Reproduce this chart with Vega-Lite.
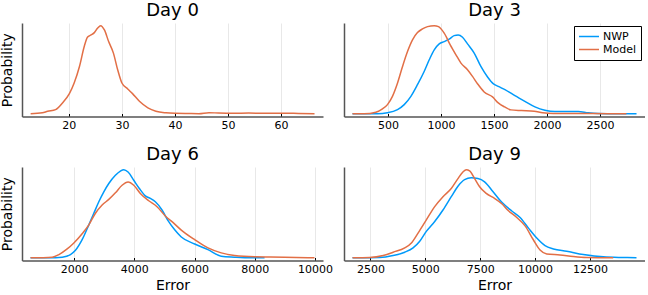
{
"$schema": "https://vega.github.io/schema/vega-lite/v6.json",
"padding": {"left": 0, "top": 1, "right": 0, "bottom": 0},
"background": "white",
"data": {"values": [
{"day":"Day 0","series":"Model","error":12.8,"density":0},{"day":"Day 0","series":"Model","error":15.0,"density":1},{"day":"Day 0","series":"Model","error":16.0,"density":2.6},{"day":"Day 0","series":"Model","error":17.5,"density":4.3},{"day":"Day 0","series":"Model","error":18.8,"density":11},{"day":"Day 0","series":"Model","error":20.1,"density":20.3},{"day":"Day 0","series":"Model","error":21.0,"density":31},{"day":"Day 0","series":"Model","error":22.0,"density":47.6},{"day":"Day 0","series":"Model","error":22.9,"density":67.6},{"day":"Day 0","series":"Model","error":23.5,"density":77},{"day":"Day 0","series":"Model","error":24.2,"density":79.3},{"day":"Day 0","series":"Model","error":24.8,"density":81.6},{"day":"Day 0","series":"Model","error":25.4,"density":86},{"day":"Day 0","series":"Model","error":26.0,"density":88.6},{"day":"Day 0","series":"Model","error":26.7,"density":84.3},{"day":"Day 0","series":"Model","error":27.5,"density":72.6},{"day":"Day 0","series":"Model","error":28.4,"density":61},{"day":"Day 0","series":"Model","error":29.2,"density":44.3},{"day":"Day 0","series":"Model","error":30.0,"density":31},{"day":"Day 0","series":"Model","error":31.1,"density":25},{"day":"Day 0","series":"Model","error":32.0,"density":20.3},{"day":"Day 0","series":"Model","error":33.3,"density":12.6},{"day":"Day 0","series":"Model","error":34.9,"density":6},{"day":"Day 0","series":"Model","error":36.4,"density":2.6},{"day":"Day 0","series":"Model","error":38.3,"density":1},{"day":"Day 0","series":"Model","error":40,"density":0.5},{"day":"Day 0","series":"Model","error":42.6,"density":0.3},{"day":"Day 0","series":"Model","error":44.5,"density":0.2},{"day":"Day 0","series":"Model","error":46.4,"density":1.2},{"day":"Day 0","series":"Model","error":48.2,"density":0.8},{"day":"Day 0","series":"Model","error":51,"density":0.5},{"day":"Day 0","series":"Model","error":53.9,"density":0.8},{"day":"Day 0","series":"Model","error":56.7,"density":0.5},{"day":"Day 0","series":"Model","error":60.5,"density":0.6},{"day":"Day 0","series":"Model","error":63.3,"density":0.4},{"day":"Day 0","series":"Model","error":66.3,"density":0.2},

{"day":"Day 3","series":"NWP","error":166,"density":0},{"day":"Day 3","series":"NWP","error":402,"density":0},{"day":"Day 3","series":"NWP","error":496,"density":1},{"day":"Day 3","series":"NWP","error":591,"density":4.3},{"day":"Day 3","series":"NWP","error":654,"density":9.3},{"day":"Day 3","series":"NWP","error":717,"density":17.6},{"day":"Day 3","series":"NWP","error":779,"density":29.3},{"day":"Day 3","series":"NWP","error":842,"density":42.6},{"day":"Day 3","series":"NWP","error":890,"density":54.3},{"day":"Day 3","series":"NWP","error":937,"density":64.3},{"day":"Day 3","series":"NWP","error":984,"density":70.3},{"day":"Day 3","series":"NWP","error":1031,"density":72.6},{"day":"Day 3","series":"NWP","error":1078,"density":75},{"day":"Day 3","series":"NWP","error":1125,"density":78.6},{"day":"Day 3","series":"NWP","error":1163,"density":79.3},{"day":"Day 3","series":"NWP","error":1204,"density":77},{"day":"Day 3","series":"NWP","error":1251,"density":70.3},{"day":"Day 3","series":"NWP","error":1314,"density":61},{"day":"Day 3","series":"NWP","error":1377,"density":47.6},{"day":"Day 3","series":"NWP","error":1440,"density":37},{"day":"Day 3","series":"NWP","error":1493,"density":30.3},{"day":"Day 3","series":"NWP","error":1541,"density":27.6},{"day":"Day 3","series":"NWP","error":1604,"density":24.3},{"day":"Day 3","series":"NWP","error":1698,"density":18.3},{"day":"Day 3","series":"NWP","error":1792,"density":12.6},{"day":"Day 3","series":"NWP","error":1887,"density":7},{"day":"Day 3","series":"NWP","error":1981,"density":3.6},{"day":"Day 3","series":"NWP","error":2075,"density":2.3},{"day":"Day 3","series":"NWP","error":2201,"density":2.3},{"day":"Day 3","series":"NWP","error":2295,"density":2.3},{"day":"Day 3","series":"NWP","error":2390,"density":1},{"day":"Day 3","series":"NWP","error":2484,"density":0.3},{"day":"Day 3","series":"NWP","error":2641,"density":0},{"day":"Day 3","series":"NWP","error":2845,"density":0},

{"day":"Day 3","series":"Model","error":166,"density":0},{"day":"Day 3","series":"Model","error":276,"density":0},{"day":"Day 3","series":"Model","error":387,"density":1.7},{"day":"Day 3","series":"Model","error":449,"density":5},{"day":"Day 3","series":"Model","error":496,"density":9.3},{"day":"Day 3","series":"Model","error":543,"density":17.6},{"day":"Day 3","series":"Model","error":591,"density":31},{"day":"Day 3","series":"Model","error":638,"density":47.6},{"day":"Day 3","series":"Model","error":685,"density":62.6},{"day":"Day 3","series":"Model","error":732,"density":74.3},{"day":"Day 3","series":"Model","error":779,"density":81.6},{"day":"Day 3","series":"Model","error":826,"density":85.3},{"day":"Day 3","series":"Model","error":874,"density":87.6},{"day":"Day 3","series":"Model","error":937,"density":88.6},{"day":"Day 3","series":"Model","error":977,"density":87.6},{"day":"Day 3","series":"Model","error":1031,"density":81},{"day":"Day 3","series":"Model","error":1088,"density":69.3},{"day":"Day 3","series":"Model","error":1142,"density":59.3},{"day":"Day 3","series":"Model","error":1189,"density":51},{"day":"Day 3","series":"Model","error":1251,"density":44.3},{"day":"Day 3","series":"Model","error":1298,"density":37.6},{"day":"Day 3","series":"Model","error":1345,"density":30.3},{"day":"Day 3","series":"Model","error":1408,"density":22},{"day":"Day 3","series":"Model","error":1487,"density":17},{"day":"Day 3","series":"Model","error":1541,"density":11},{"day":"Day 3","series":"Model","error":1600,"density":7},{"day":"Day 3","series":"Model","error":1660,"density":4},{"day":"Day 3","series":"Model","error":1760,"density":3.3},{"day":"Day 3","series":"Model","error":1880,"density":2.6},{"day":"Day 3","series":"Model","error":1960,"density":1},{"day":"Day 3","series":"Model","error":2060,"density":0.3},{"day":"Day 3","series":"Model","error":2300,"density":0.3},{"day":"Day 3","series":"Model","error":2580,"density":0.2},{"day":"Day 3","series":"Model","error":2750,"density":0},

{"day":"Day 6","series":"NWP","error":550,"density":0},{"day":"Day 6","series":"NWP","error":1161,"density":0},{"day":"Day 6","series":"NWP","error":1602,"density":0.7},{"day":"Day 6","series":"NWP","error":1877,"density":3.3},{"day":"Day 6","series":"NWP","error":2043,"density":7.6},{"day":"Day 6","series":"NWP","error":2265,"density":18.3},{"day":"Day 6","series":"NWP","error":2488,"density":33.3},{"day":"Day 6","series":"NWP","error":2653,"density":45},{"day":"Day 6","series":"NWP","error":2819,"density":56.6},{"day":"Day 6","series":"NWP","error":2985,"density":66.6},{"day":"Day 6","series":"NWP","error":3151,"density":75},{"day":"Day 6","series":"NWP","error":3370,"density":83.3},{"day":"Day 6","series":"NWP","error":3536,"density":87.6},{"day":"Day 6","series":"NWP","error":3648,"density":89},{"day":"Day 6","series":"NWP","error":3791,"density":86.6},{"day":"Day 6","series":"NWP","error":3980,"density":78.3},{"day":"Day 6","series":"NWP","error":4166,"density":70},{"day":"Day 6","series":"NWP","error":4365,"density":62.6},{"day":"Day 6","series":"NWP","error":4531,"density":60},{"day":"Day 6","series":"NWP","error":4697,"density":56.6},{"day":"Day 6","series":"NWP","error":4919,"density":48.3},{"day":"Day 6","series":"NWP","error":5130,"density":37},{"day":"Day 6","series":"NWP","error":5340,"density":28.3},{"day":"Day 6","series":"NWP","error":5559,"density":21},{"day":"Day 6","series":"NWP","error":6004,"density":14},{"day":"Day 6","series":"NWP","error":6445,"density":8.3},{"day":"Day 6","series":"NWP","error":6886,"density":1.7},{"day":"Day 6","series":"NWP","error":7330,"density":0.7},{"day":"Day 6","series":"NWP","error":7881,"density":0},{"day":"Day 6","series":"NWP","error":8325,"density":0},

{"day":"Day 6","series":"Model","error":550,"density":0},{"day":"Day 6","series":"Model","error":1270,"density":0.7},{"day":"Day 6","series":"Model","error":1493,"density":3.3},{"day":"Day 6","series":"Model","error":1768,"density":9},{"day":"Day 6","series":"Model","error":1990,"density":15},{"day":"Day 6","series":"Model","error":2265,"density":24.3},{"day":"Day 6","series":"Model","error":2488,"density":33.3},{"day":"Day 6","series":"Model","error":2707,"density":45},{"day":"Day 6","series":"Model","error":2929,"density":53.3},{"day":"Day 6","series":"Model","error":3151,"density":59},{"day":"Day 6","series":"Model","error":3370,"density":65.6},{"day":"Day 6","series":"Model","error":3592,"density":73.3},{"day":"Day 6","series":"Model","error":3791,"density":76.6},{"day":"Day 6","series":"Model","error":3980,"density":73.3},{"day":"Day 6","series":"Model","error":4199,"density":65},{"day":"Day 6","series":"Model","error":4478,"density":57.6},{"day":"Day 6","series":"Model","error":4753,"density":51.6},{"day":"Day 6","series":"Model","error":5028,"density":42.3},{"day":"Day 6","series":"Model","error":5307,"density":35},{"day":"Day 6","series":"Model","error":5559,"density":28},{"day":"Day 6","series":"Model","error":6004,"density":18.3},{"day":"Day 6","series":"Model","error":6445,"density":10},{"day":"Day 6","series":"Model","error":6886,"density":5},{"day":"Day 6","series":"Model","error":7330,"density":2.3},{"day":"Day 6","series":"Model","error":7993,"density":1},{"day":"Day 6","series":"Model","error":8988,"density":0.7},{"day":"Day 6","series":"Model","error":9984,"density":0},

{"day":"Day 9","series":"NWP","error":1682,"density":0},{"day":"Day 9","series":"NWP","error":2927,"density":0.3},{"day":"Day 9","series":"NWP","error":3532,"density":2.3},{"day":"Day 9","series":"NWP","error":4063,"density":5.7},{"day":"Day 9","series":"NWP","error":4441,"density":10},{"day":"Day 9","series":"NWP","error":4745,"density":16.7},{"day":"Day 9","series":"NWP","error":5045,"density":26.7},{"day":"Day 9","series":"NWP","error":5427,"density":36.7},{"day":"Day 9","series":"NWP","error":5804,"density":48.3},{"day":"Day 9","series":"NWP","error":6181,"density":61.7},{"day":"Day 9","series":"NWP","error":6486,"density":72.3},{"day":"Day 9","series":"NWP","error":6790,"density":79},{"day":"Day 9","series":"NWP","error":7090,"density":80.7},{"day":"Day 9","series":"NWP","error":7395,"density":80},{"day":"Day 9","series":"NWP","error":7700,"density":76.7},{"day":"Day 9","series":"NWP","error":8077,"density":67},{"day":"Day 9","series":"NWP","error":8486,"density":56},{"day":"Day 9","series":"NWP","error":8940,"density":47.3},{"day":"Day 9","series":"NWP","error":9318,"density":40.7},{"day":"Day 9","series":"NWP","error":9700,"density":30},{"day":"Day 9","series":"NWP","error":10077,"density":20},{"day":"Day 9","series":"NWP","error":10454,"density":12.3},{"day":"Day 9","series":"NWP","error":10836,"density":9},{"day":"Day 9","series":"NWP","error":11440,"density":6.7},{"day":"Day 9","series":"NWP","error":12200,"density":3.3},{"day":"Day 9","series":"NWP","error":13108,"density":1},{"day":"Day 9","series":"NWP","error":14167,"density":0.3},{"day":"Day 9","series":"NWP","error":14621,"density":0},

{"day":"Day 9","series":"Model","error":1682,"density":0},{"day":"Day 9","series":"Model","error":2473,"density":0.3},{"day":"Day 9","series":"Model","error":3077,"density":2.3},{"day":"Day 9","series":"Model","error":3532,"density":5.7},{"day":"Day 9","series":"Model","error":4063,"density":10},{"day":"Day 9","series":"Model","error":4364,"density":15},{"day":"Day 9","series":"Model","error":4668,"density":25},{"day":"Day 9","series":"Model","error":5045,"density":38.3},{"day":"Day 9","series":"Model","error":5427,"density":51.7},{"day":"Day 9","series":"Model","error":5804,"density":61.7},{"day":"Day 9","series":"Model","error":6181,"density":70},{"day":"Day 9","series":"Model","error":6486,"density":80},{"day":"Day 9","series":"Model","error":6713,"density":86.7},{"day":"Day 9","series":"Model","error":6863,"density":89},{"day":"Day 9","series":"Model","error":7018,"density":87.7},{"day":"Day 9","series":"Model","error":7245,"density":80},{"day":"Day 9","series":"Model","error":7472,"density":71.7},{"day":"Day 9","series":"Model","error":7772,"density":65},{"day":"Day 9","series":"Model","error":8154,"density":60},{"day":"Day 9","series":"Model","error":8500,"density":54.3},{"day":"Day 9","series":"Model","error":8713,"density":49},{"day":"Day 9","series":"Model","error":9168,"density":40.7},{"day":"Day 9","series":"Model","error":9545,"density":32.3},{"day":"Day 9","series":"Model","error":9927,"density":18},{"day":"Day 9","series":"Model","error":10227,"density":8},{"day":"Day 9","series":"Model","error":10531,"density":4},{"day":"Day 9","series":"Model","error":11136,"density":3},{"day":"Day 9","series":"Model","error":11745,"density":1.3},{"day":"Day 9","series":"Model","error":12349,"density":0.3},{"day":"Day 9","series":"Model","error":13563,"density":0}
]},
"columns": 2,
"spacing": {"row": 50, "column": 21},
"bounds": "flush",
"resolve": {"legend": {"color": "independent"}},
"concat": [
{
 "title": "Day 0",
 "width": 301, "height": 93.5,
 "transform": [{"filter": "datum.day === 'Day 0'"}],
 "mark": {"type": "line", "strokeWidth": 1.5, "interpolate": "monotone"},
 "encoding": {
  "x": {"field": "error", "type": "quantitative", "scale": {"domain": [11.17, 67.9], "nice": false, "zero": false}, "axis": {"values": [20, 30, 40, 50, 60], "title": null}},
  "y": {"field": "density", "type": "quantitative", "scale": {"domain": [-2.66, 91.26], "nice": false}, "axis": {"title": "Probability"}},
  "color": {"field": "series", "type": "nominal", "scale": {"domain": ["NWP", "Model"], "range": ["#009AFA", "#E26F46"]}, "legend": null}
 }
},
{
 "title": "Day 3",
 "width": 301, "height": 93.5,
 "transform": [{"filter": "datum.day === 'Day 3'"}],
 "mark": {"type": "line", "strokeWidth": 1.5, "interpolate": "monotone"},
 "encoding": {
  "x": {"field": "error", "type": "quantitative", "scale": {"domain": [86, 2925], "nice": false, "zero": false}, "axis": {"values": [500, 1000, 1500, 2000, 2500], "title": null, "format": "d"}},
  "y": {"field": "density", "type": "quantitative", "scale": {"domain": [-2.66, 91.26], "nice": false}, "axis": {"title": null}},
  "color": {"field": "series", "type": "nominal", "scale": {"domain": ["NWP", "Model"], "range": ["#009AFA", "#E26F46"]},
   "legend": {"title": null, "orient": "none", "legendX": 230, "legendY": 3, "strokeColor": "#000", "fillColor": "#fff", "symbolType": "stroke", "symbolSize": 400, "symbolStrokeWidth": 1.5, "labelFontSize": 11, "labelFont": "DejaVu Sans", "labelColor": "#000", "padding": 4, "rowPadding": 0, "clipHeight": 13, "labelOffset": 3}}
 }
},
{
 "title": "Day 6",
 "width": 301, "height": 93.5,
 "transform": [{"filter": "datum.day === 'Day 6'"}],
 "mark": {"type": "line", "strokeWidth": 1.5, "interpolate": "monotone"},
 "encoding": {
  "x": {"field": "error", "type": "quantitative", "scale": {"domain": [267, 10267], "nice": false, "zero": false}, "axis": {"values": [2000, 4000, 6000, 8000, 10000], "title": "Error", "format": "d"}},
  "y": {"field": "density", "type": "quantitative", "scale": {"domain": [-2.67, 91.67], "nice": false}, "axis": {"title": "Probability"}},
  "color": {"field": "series", "type": "nominal", "scale": {"domain": ["NWP", "Model"], "range": ["#009AFA", "#E26F46"]}, "legend": null}
 }
},
{
 "title": "Day 9",
 "width": 301, "height": 93.5,
 "transform": [{"filter": "datum.day === 'Day 9'"}],
 "mark": {"type": "line", "strokeWidth": 1.5, "interpolate": "monotone"},
 "encoding": {
  "x": {"field": "error", "type": "quantitative", "scale": {"domain": [1294, 15009], "nice": false, "zero": false}, "axis": {"values": [2500, 5000, 7500, 10000, 12500], "title": "Error", "format": "d"}},
  "y": {"field": "density", "type": "quantitative", "scale": {"domain": [-2.67, 91.67], "nice": false}, "axis": {"title": null}},
  "color": {"field": "series", "type": "nominal", "scale": {"domain": ["NWP", "Model"], "range": ["#009AFA", "#E26F46"]}, "legend": null}
 }
}
],
"config": {
 "font": "DejaVu Sans",
 "view": {"stroke": null},
 "axis": {"domainColor": "#555", "domainWidth": 1.5, "labelFont": "DejaVu Sans", "labelFontSize": 11, "labelColor": "#000", "titleFont": "DejaVu Sans", "titleFontSize": 14, "titleFontWeight": "normal", "titleColor": "#000", "gridColor": "#e8e8e8", "tickColor": "#000", "tickSize": -3, "labelPadding": 6, "titlePadding": 4},
 "axisY": {"grid": false, "ticks": false, "labels": false, "titlePadding": 8},
 "title": {"font": "DejaVu Sans", "fontSize": 18, "fontWeight": "normal", "color": "#000", "anchor": "middle", "offset": 3}
}
}
